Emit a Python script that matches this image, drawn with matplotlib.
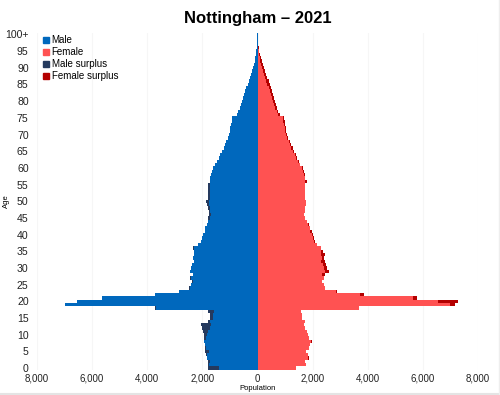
import numpy as np
import matplotlib
matplotlib.use("Agg")
import matplotlib.pyplot as plt
from matplotlib.lines import Line2D

plt.rcParams['font.family'] = ['Liberation Sans', 'DejaVu Sans']

# population by single year of age, 0 .. 100+
ages = list(range(101))
male = [
    1780, 1780, 1810, 1840, 1860, 1890, 1920, 1900, 1950, 1950,   # 0-9
    1950, 1960, 2000, 2050, 1780, 1740, 1720, 1780, 3730, 7000,   # 10-19
    6550, 5630, 3730, 2860, 2490, 2400, 2360, 2440, 2340, 2440,   # 20-29
    2400, 2360, 2320, 2340, 2300, 2310, 2330, 2150, 2050, 2000,   # 30-39
    1960, 1920, 1900, 1850, 1800, 1780, 1760, 1770, 1800, 1850,   # 40-49
    1870, 1800, 1780, 1780, 1790, 1780, 1740, 1720, 1690, 1660,   # 50-59
    1620, 1530, 1470, 1410, 1350, 1280, 1230, 1180, 1130, 1080,   # 60-69
    1040, 1000, 980, 960, 940, 920, 760, 690, 640, 600,           # 70-79
    560, 520, 480, 440, 400, 360, 320, 280, 240, 200,             # 80-89
    170, 130, 100, 80, 60, 45, 32, 22, 15, 10,                    # 90-99
    12,                                                           # 100+
]
female = [
    1400, 1760, 1740, 1860, 1830, 1760, 1860, 1920, 1990, 1860,
    1820, 1800, 1740, 1680, 1740, 1620, 1600, 1580, 3700, 7150,
    7270, 5790, 3880, 2890, 2460, 2430, 2340, 2400, 2460, 2610,
    2520, 2480, 2460, 2400, 2450, 2380, 2300, 2150, 2090, 2050,
    2010, 1960, 1920, 1870, 1780, 1720, 1700, 1720, 1740, 1770,
    1760, 1740, 1740, 1740, 1730, 1720, 1780, 1730, 1710, 1670,
    1640, 1560, 1500, 1450, 1390, 1320, 1270, 1220, 1180, 1120,
    1080, 1040, 1020, 1010, 990, 960, 820, 760, 720, 680,
    640, 600, 560, 520, 480, 440, 400, 360, 320, 280,
    240, 190, 150, 120, 90, 65, 48, 35, 22, 15,
    20,
]
x_ticks = [-8000, -6000, -4000, -2000, 0, 2000, 4000, 6000, 8000]
y_ticks = list(range(0, 101, 5))
y_labels = [str(a) for a in y_ticks[:-1]] + ['100+']

c_male = '#0068bd'
c_female = '#ff5252'
c_male_s = '#253a5e'
c_female_s = '#b40000'

m = np.array(male)
f = np.array(female)
common = np.minimum(m, f)
m_sur = np.clip(m - f, 0, None)
f_sur = np.clip(f - m, 0, None)

fig = plt.figure(figsize=(5, 3.95), dpi=100)
ax = fig.add_axes([0.074, 0.064, 0.882, 0.853])

ax.barh(ages, -common, height=1, color=c_male, linewidth=0)
ax.barh(ages, -m_sur, left=-common, height=1, color=c_male_s, linewidth=0)
ax.barh(ages, common, height=1, color=c_female, linewidth=0)
ax.barh(ages, f_sur, left=common, height=1, color=c_female_s, linewidth=0)

ax.set_xlim(-8000, 8000)
ax.set_ylim(-0.5, 100.5)
ax.set_xticks(x_ticks)
ax.set_xticklabels(['{:,}'.format(abs(v)) for v in x_ticks], fontsize=7)
ax.set_yticks(y_ticks)
ax.set_yticklabels(y_labels, fontsize=7.6)
ax.tick_params(axis='both', length=0, colors='#222222')
ax.tick_params(axis='y', pad=6)
ax.tick_params(axis='x', pad=3)
for s in ax.spines.values():
    s.set_visible(False)
ax.grid(axis='x', color='#f6f6f6', linewidth=0.8)
ax.set_axisbelow(True)

ax.set_xlabel('Population', fontsize=5.5, labelpad=1)
ax.set_ylabel('Age', fontsize=5.5)
ax.yaxis.set_label_coords(-0.062, 0.5)
fig.text(0.516, 0.952, 'Nottingham \u2013 2021', ha='center', va='center',
         fontsize=12, fontweight='bold')

handles = [Line2D([], [], marker='s', linestyle='none', markersize=4.5, color=c)
           for c in (c_male, c_female, c_male_s, c_female_s)]
fig.legend(handles, ['Male', 'Female', 'Male surplus', 'Female surplus'],
           loc='upper left', bbox_to_anchor=(0.074, 0.92), frameon=False,
           fontsize=7, handletextpad=0.1, handlelength=1.0,
           labelspacing=0.2, borderaxespad=0)

# faint frame on right and bottom edge of the image
fig.add_artist(Line2D([0, 1], [0.003, 0.003], transform=fig.transFigure,
                      color='#e4e4e4', linewidth=1.5))
fig.add_artist(Line2D([0.997, 0.997], [0, 1], transform=fig.transFigure,
                      color='#eeeeee', linewidth=1.0))

fig.savefig('out.png', dpi=100, facecolor='white')
